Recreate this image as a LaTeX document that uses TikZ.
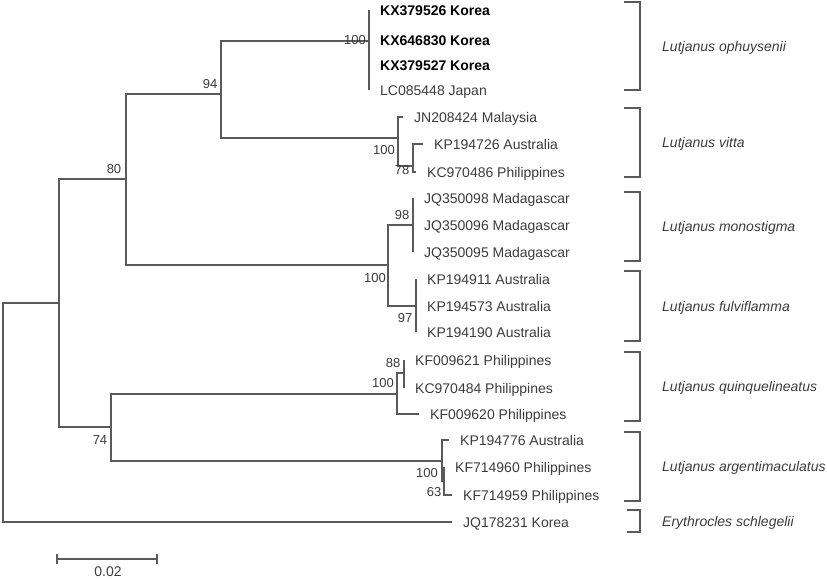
\documentclass[tikz,border=0pt]{standalone}
\usepackage{fontspec}
\setmainfont{Liberation Sans}
\definecolor{branchgray}{HTML}{5A5A5A}
\definecolor{labelgray}{HTML}{3C3C3C}
\NewDocumentCommand{\DrawSpeciesBracket}{O{624} m m m m}{%
    \def\BracketTop{#2}
    \def\BracketBottom{#3}
    %
    \draw [bracket] (#1,\BracketTop) -- (640,\BracketTop) -- (640,\BracketBottom) -- (#1,\BracketBottom);
    \node [species] (sp-#4) at (662,{(\BracketTop+\BracketBottom)/2}) {#5};
}

\begin{document}
\begin{tikzpicture}[
    x=1pt, y=-1pt,% pixel grid, y going down
    branch/.style={draw=branchgray, line width=1.4pt},
    bracket/.style={draw=branchgray, line width=1.4pt},
    leaf/.style={anchor=west, inner xsep=11pt, inner ysep=0pt, text=labelgray,
        font=\fontsize{14}{14}\selectfont, text height=10pt, text depth=0pt},
    boldleaf/.style={leaf, text=black, font=\fontsize{14}{14}\selectfont\bfseries},
    boot/.style={inner sep=0pt, text=labelgray, font=\fontsize{13}{13}\selectfont,
        text height=9.5pt, text depth=0pt},
    species/.style={anchor=west, inner sep=0pt, text=labelgray,
        font=\fontsize{14}{14}\selectfont\itshape, text height=10pt, text depth=0pt}
    ]
    \useasboundingbox (0,0) rectangle (827,579);

    % internal nodes
    \coordinate (root) at (3,412);
    \coordinate (ingroup) at (59,303);
    \coordinate (clA) at (126,179);
    \coordinate (clOV) at (221,94);
    \coordinate (oph) at (369,41);
    \coordinate (vit) at (398,138);
    \coordinate (vit2) at (413,166);
    \coordinate (clMF) at (388,265);
    \coordinate (mon) at (413,225);
    \coordinate (ful) at (416,306);
    \coordinate (cl74) at (111,427);
    \coordinate (qui) at (397,394);
    \coordinate (qui2) at (404,373);
    \coordinate (arg) at (442,461);
    \coordinate (arg2) at (444,481);

    % leaves
    \node [boldleaf] (kx379526) at (369,10) {KX379526 Korea};
    \node [boldleaf] (kx646830) at (369,40) {KX646830 Korea};
    \node [boldleaf] (kx379527) at (369,65) {KX379527 Korea};
    \node [leaf] (lc085448) at (369,90) {LC085448 Japan};
    \node [leaf] (jn208424) at (403,117) {JN208424 Malaysia};
    \node [leaf] (kp194726) at (423,144) {KP194726 Australia};
    \node [leaf] (kc970486) at (416,172) {KC970486 Philippines};
    \node [leaf] (jq350098) at (413,198) {JQ350098 Madagascar};
    \node [leaf] (jq350096) at (413,225) {JQ350096 Madagascar};
    \node [leaf] (jq350095) at (413,252) {JQ350095 Madagascar};
    \node [leaf] (kp194911) at (416,279) {KP194911 Australia};
    \node [leaf] (kp194573) at (416,306) {KP194573 Australia};
    \node [leaf] (kp194190) at (416,332) {KP194190 Australia};
    \node [leaf] (kf009621) at (404,360) {KF009621 Philippines};
    \node [leaf] (kc970484) at (404,388) {KC970484 Philippines};
    \node [leaf] (kf009620) at (419,414) {KF009620 Philippines};
    \node [leaf] (kp194776) at (449,440) {KP194776 Australia};
    \node [leaf] (kf714960) at (444,467) {KF714960 Philippines};
    \node [leaf] (kf714959) at (452,495) {KF714959 Philippines};
    \node [leaf] (jq178231) at (452,522) {JQ178231 Korea};

    % branches
    \draw [branch] (root) |- (ingroup);
    \draw [branch] (root) |- (jq178231.west);
    \draw [branch] (ingroup) |- (clA);
    \draw [branch] (ingroup) |- (cl74);
    \draw [branch] (clA) |- (clOV);
    \draw [branch] (clA) |- (clMF);
    \draw [branch] (clOV) |- (oph);
    \draw [branch] (clOV) |- (vit);
    \draw [branch] (kx379526.west) -- (lc085448.west);
    \draw [branch] (vit) |- (jn208424.west);
    \draw [branch] (vit) |- (vit2);
    \draw [branch] (vit2) |- (kp194726.west);
    \draw [branch] (vit2) |- (kc970486.west);
    \draw [branch] (clMF) |- (mon);
    \draw [branch] (clMF) |- (ful);
    \draw [branch] (jq350098.west) -- (jq350095.west);
    \draw [branch] (kp194911.west) -- (kp194190.west);
    \draw [branch] (cl74) |- (qui);
    \draw [branch] (cl74) |- (arg);
    \draw [branch] (qui) |- (qui2);
    \draw [branch] (qui) |- (kf009620.west);
    \draw [branch] (kf009621.west) -- (kc970484.west);
    \draw [branch] (arg) |- (kp194776.west);
    \draw [branch] (arg) |- (arg2);
    \draw [branch] (arg2) |- (kf714960.west);
    \draw [branch] (arg2) |- (kf714959.west);

    % bootstrap values
    \node [boot] (bs80) at (114,169) {80};
    \node [boot] (bs94) at (210,84) {94};
    \node [boot] (bs100oph) at (355,40) {100};
    \node [boot] (bs100vit) at (384,150) {100};
    \node [boot] (bs78) at (402,170) {78};
    \node [boot] (bs100mf) at (375,278) {100};
    \node [boot] (bs98) at (402,215) {98};
    \node [boot] (bs97) at (405,318) {97};
    \node [boot] (bs74) at (100,440) {74};
    \node [boot] (bs100qui) at (383,383) {100};
    \node [boot] (bs88) at (393,363) {88};
    \node [boot] (bs100arg) at (427,473) {100};
    \node [boot] (bs63) at (434,492) {63};

    % species
    \DrawSpeciesBracket{2}{90}{oph}{Lutjanus ophuysenii}
    \DrawSpeciesBracket{108}{177}{vit}{Lutjanus vitta}
    \DrawSpeciesBracket{192}{261}{mon}{Lutjanus monostigma}
    \DrawSpeciesBracket{271}{341}{ful}{Lutjanus fulviflamma}
    \DrawSpeciesBracket{352}{421}{qui}{Lutjanus quinquelineatus}
    \DrawSpeciesBracket{432}{501}{arg}{Lutjanus argentimaculatus}
    \DrawSpeciesBracket[627]{510}{532}{ery}{Erythrocles schlegelii}

    % scale bar
    \draw [branch] (57,559) -- (157,559);
    \draw [branch] (57,554) -- (57,564);
    \draw [branch] (157,554) -- (157,564);
    \node [boot, font=\fontsize{14}{14}\selectfont] (scalelabel) at (108,572) {0.02};

\end{tikzpicture}
\end{document}
